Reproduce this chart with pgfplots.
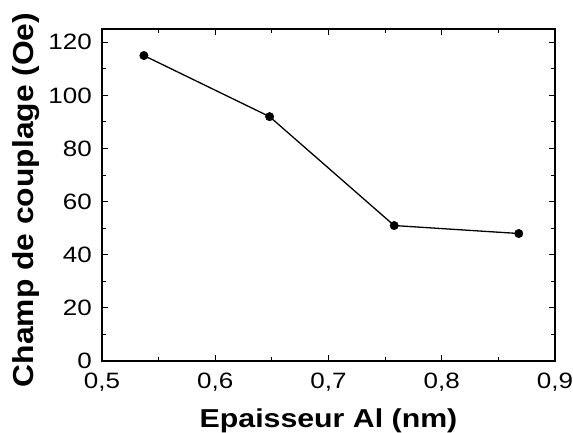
\documentclass[border=0pt]{standalone}
\usepackage{pgfplots}
\pgfplotsset{compat=1.18}
\usepackage{fontspec}
\setmainfont[FakeStretch=1.17]{Liberation Sans}
\newfontfamily\ylfont[FakeStretch=1.1]{Liberation Sans}
\begin{document}
\begin{tikzpicture}
\begin{axis}[
  scale only axis,
  width=453bp, height=332bp,
  xmin=0.5, xmax=0.9, ymin=0, ymax=125,
  xtick={0.5,0.6,0.7,0.8,0.9},
  ytick={0,20,40,60,80,100,120},
  minor x tick num=1, minor y tick num=1,
  tick align=inside,
  major tick length=6bp, minor tick length=4bp,
  every tick/.style={black, line width=1bp},
  axis line style={line width=1.3bp},
  /pgf/number format/assume math mode=true,
  /pgf/number format/use comma,
  /pgf/number format/fixed,
  /pgf/number format/precision=1,
  xticklabel style={font=\fontsize{22.3}{26}\selectfont, anchor=north, inner sep=0pt, yshift=-12bp},
  yticklabel style={font=\fontsize{22.3}{26}\selectfont, anchor=east, inner sep=0pt, xshift=-10bp},
  xlabel={\bfseries Epaisseur Al (nm)},
  ylabel={\ylfont\bfseries Champ de couplage (Oe)},
  xlabel style={font=\fontsize{26}{28}\selectfont, at={(axis description cs:0.5,0)}, anchor=base, inner sep=0pt, yshift=-66bp},
  ylabel style={font=\fontsize{29}{30}\selectfont, at={(axis description cs:-0.1987,0.485)}, anchor=north, inner sep=0pt},
]
\addplot[black, line width=1.3bp, mark=*, mark size=4.2bp, mark options={fill=black, line width=0.5bp}]
coordinates {(0.537,115) (0.648,92) (0.758,51) (0.868,48)};
\end{axis}
\path (current axis.south west) ++(-102bp,-71bp) coordinate (bbA);
\path (current axis.north east) ++(18bp,29bp) coordinate (bbB);
\pgfresetboundingbox
\path[use as bounding box] (bbA) rectangle (bbB);
\end{tikzpicture}
\end{document}
